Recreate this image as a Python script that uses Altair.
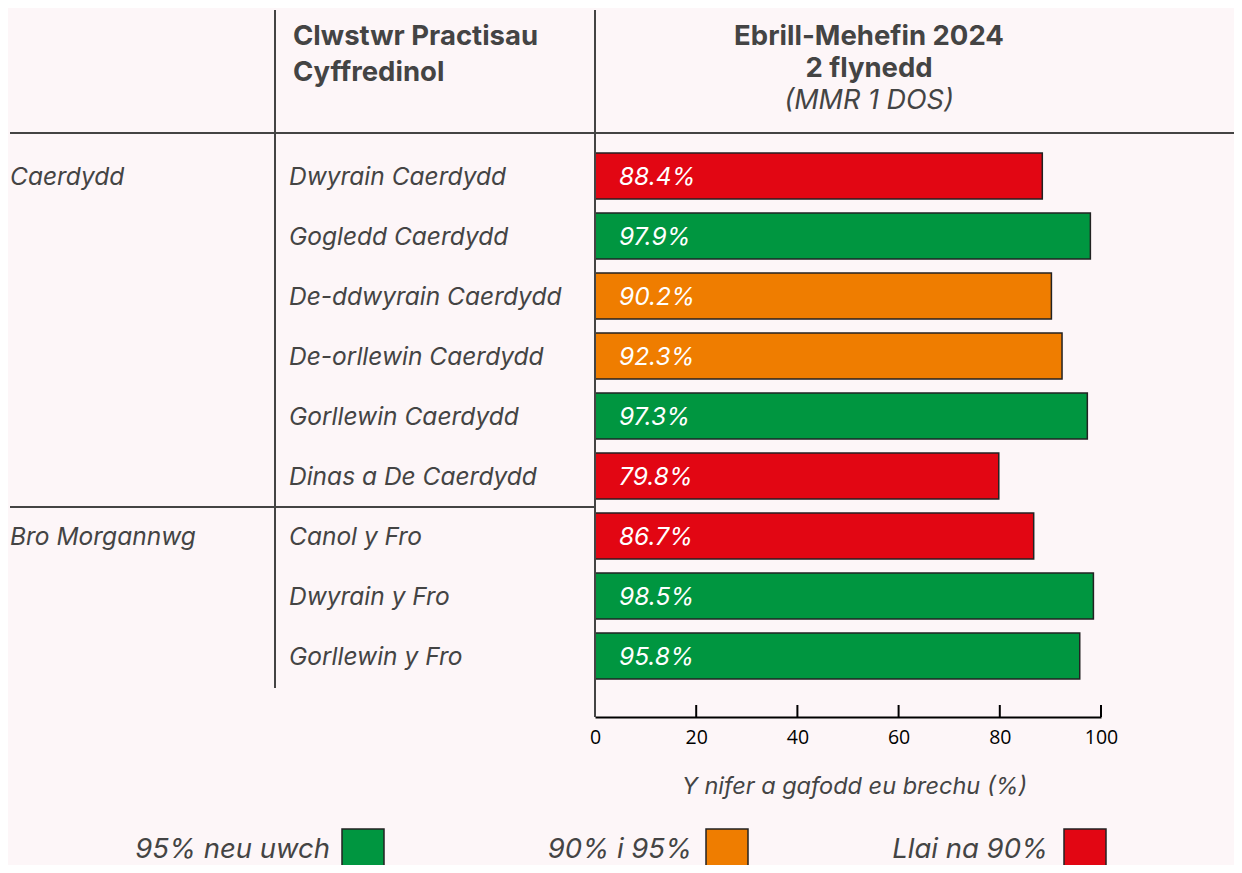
import altair as alt
import pandas as pd

# ---- data ----
clusters = ["Dwyrain Caerdydd", "Gogledd Caerdydd", "De-ddwyrain Caerdydd",
            "De-orllewin Caerdydd", "Gorllewin Caerdydd", "Dinas a De Caerdydd",
            "Canol y Fro", "Dwyrain y Fro", "Gorllewin y Fro"]
regions = ["Caerdydd"] * 6 + ["Bro Morgannwg"] * 3
values = [88.4, 97.9, 90.2, 92.3, 97.3, 79.8, 86.7, 98.5, 95.8]
bands = ["Llai na 90%", "95% neu uwch", "90% i 95%", "90% i 95%", "95% neu uwch",
         "Llai na 90%", "Llai na 90%", "95% neu uwch", "95% neu uwch"]
band_names = ["95% neu uwch", "90% i 95%", "Llai na 90%"]
band_colors = ["#009640", "#ef7d00", "#e20613"]
tick_values = [0, 20, 40, 60, 80, 100]

header_left = ["Clwstwr Practisau", "Cyffredinol"]
header_right = ["Ebrill-Mehefin 2024", "2 flynedd"]
header_right_sub = "(MMR 1 DOS)"
x_title = "Y nifer a gafodd eu brechu (%)"

df = pd.DataFrame({"cluster": clusters, "region": regions, "value": values, "band": bands})
df["label"] = [f"{v:.1f}%" for v in values]

# first cluster of each region (for region labels)
reg_rows = df.drop_duplicates("region")[["region", "cluster"]]

FONT = "Inter"
AXFONT = "Open Sans"
TXT = "#444444"
BG = "#fdf6f8"

xscale = alt.Scale(domain=[0, 100], range=[587, 1093], nice=False, zero=True)
yscale = alt.Scale(domain=clusters, range=[138, 678], paddingInner=0.233, paddingOuter=0.117)
cscale = alt.Scale(domain=band_names, range=band_colors)

bars = alt.Chart(df).mark_bar(stroke="#222222", strokeWidth=1.5, cornerRadius=0).encode(
    x=alt.X("value:Q", scale=xscale,
            axis=alt.Axis(values=tick_values, ticks=False, grid=False, domainColor="#000000",
                          domainWidth=2, labelFontSize=19.5, labelColor="#000000", labelFont=AXFONT,
                          labelPadding=11, labelFlush=False, title=x_title, titleFont=FONT,
                          titleFontStyle="italic", titleFontWeight="normal", titleFontSize=23.5,
                          titleColor=TXT, titlePadding=28, titleX=846)),
    y=alt.Y("cluster:N", sort=clusters, scale=yscale, axis=None),
    color=alt.Color("band:N", scale=cscale, legend=None),
)

val_text = alt.Chart(df).mark_text(align="left", baseline="middle", font=FONT, fontSize=24.5,
                                   fontStyle="italic", color="white", dy=2).encode(
    x=alt.value(611),
    y=alt.Y("cluster:N", sort=clusters, scale=yscale, axis=None),
    text="label:N",
)

cl_text = alt.Chart(df).mark_text(align="left", baseline="middle", font=FONT, fontSize=24.5,
                                  fontStyle="italic", color=TXT, dy=2).encode(
    x=alt.value(281),
    y=alt.Y("cluster:N", sort=clusters, scale=yscale, axis=None),
    text="cluster:N",
)

reg_text = alt.Chart(reg_rows).mark_text(align="left", baseline="middle", font=FONT, fontSize=24.5,
                                         fontStyle="italic", color=TXT, dy=2).encode(
    x=alt.value(2),
    y=alt.Y("cluster:N", sort=clusters, scale=yscale, axis=None),
    text="region:N",
)

ticks = alt.Chart(pd.DataFrame({"t": tick_values})).mark_rule(color="#000000", strokeWidth=2).encode(
    x=alt.X("t:Q", scale=xscale), y=alt.value(697), y2=alt.value(709))

def rule(x1, x2, y1, y2):
    return alt.Chart(pd.DataFrame({"a": [0]})).mark_rule(color=TXT, strokeWidth=2).encode(
        x=alt.value(x1), x2=alt.value(x2), y=alt.value(y1), y2=alt.value(y2))

lines = [rule(267, 267, 2, 680), rule(587, 587, 2, 709), rule(2, 1234, 125, 125), rule(2, 587, 499, 499)]

def text(t, x, y, align="left", weight="normal", style="normal", size=24):
    return alt.Chart(pd.DataFrame({"t": [t]})).mark_text(
        align=align, baseline="middle", font=FONT, fontSize=size, fontWeight=weight,
        fontStyle=style, color=TXT).encode(x=alt.value(x), y=alt.value(y), text="t:N")

headers = [
    text(header_left[0], 285, 29, weight="bold", size=27.5),
    text(header_left[1], 285, 65, weight="bold", size=27.5),
    text(header_right[0], 861, 29, align="center", weight="bold", size=27.5),
    text(header_right[1], 861, 61, align="center", weight="bold", size=27.5),
    text(header_right_sub, 861, 93, align="center", style="italic", size=27),
]

legend_layers = []
legend_x = [(322, 334), (684, 698), (1040, 1056)]
for (tx, rx), name, col in zip(legend_x, band_names, band_colors):
    legend_layers.append(text(name, tx, 842, align="right", style="italic", size=27.5))
    legend_layers.append(
        alt.Chart(pd.DataFrame({"a": [0]})).mark_rect(color=col, stroke="#222222", strokeWidth=1.5).encode(
            x=alt.value(rx), x2=alt.value(rx + 42), y=alt.value(821), y2=alt.value(868)))

chart = alt.layer(bars, val_text, cl_text, reg_text, ticks, *lines, *headers, *legend_layers).properties(
    width=1226, height=709,
    autosize=alt.AutoSizeParams(type="none"),
    padding={"left": 0, "top": 0, "right": 0, "bottom": 148},
).configure(background=BG).configure_view(stroke=None)

chart.save("out.html", embed_options={"renderer": "svg", "actions": False})
